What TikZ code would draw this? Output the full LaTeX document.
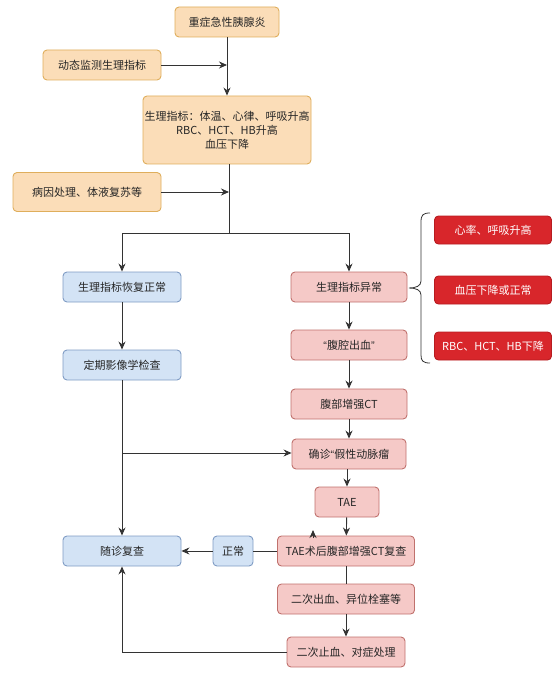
\documentclass[tikz,border=0pt]{standalone}
\usepackage{fontspec}
\setmainfont{Noto Sans CJK SC}
\newfontfamily\qf{Liberation Sans}
\usetikzlibrary{arrows.meta}
\definecolor{orfill}{HTML}{FBDDB8}
\definecolor{ordraw}{HTML}{DFAE5C}
\definecolor{blfill}{HTML}{D3E3F5}
\definecolor{bldraw}{HTML}{7F9CC4}
\definecolor{pkfill}{HTML}{F5C9C7}
\definecolor{pkdraw}{HTML}{C0716D}
\definecolor{rdfill}{HTML}{D8262B}
\definecolor{rddraw}{HTML}{B71C20}
\definecolor{linec}{HTML}{333333}
\tikzset{
  box/.style={rounded corners=4pt, line width=0.9pt, align=center, inner sep=1pt,
    font=\fontsize{11}{14}\selectfont, text=black!85},
  obox/.style={box, fill=orfill, draw=ordraw},
  bbox/.style={box, fill=blfill, draw=bldraw},
  pbox/.style={box, fill=pkfill, draw=pkdraw},
  rbox/.style={box, fill=rdfill, draw=rddraw, text=white, minimum width=117pt, minimum height=28pt},
  conn/.style={draw=linec, line width=0.9pt},
  arr/.style={conn, -{Stealth[length=8pt,width=7pt]}},
}
\begin{document}
\begin{tikzpicture}[x=1pt,y=-1pt]
\useasboundingbox (0,0) rectangle (559,676);
% top chain
\node[obox, minimum width=104pt, minimum height=30pt] (n1) at (227,22) {重症急性胰腺炎};
\node[obox, minimum width=118pt, minimum height=30pt] (n2) at (102,65) {动态监测生理指标};
\node[obox, minimum width=168pt, minimum height=68pt] (n3) at (227,130) {生理指标：体温、心律、呼吸升高\\RBC、HCT、HB升高\\血压下降};
\node[obox, minimum width=148pt, minimum height=39pt] (n4) at (87,192) {病因处理、体液复苏等};
% left column
\node[bbox, minimum width=118pt, minimum height=30pt] (l1) at (122,287) {生理指标恢复正常};
\node[bbox, minimum width=118pt, minimum height=30pt] (l2) at (122,365) {定期影像学检查};
\node[bbox, minimum width=118pt, minimum height=30pt] (l3) at (122,551) {随诊复查};
% right column
\node[pbox, minimum width=116pt, minimum height=30pt] (r1) at (349,287) {生理指标异常};
\node[pbox, minimum width=116pt, minimum height=30pt] (r2) at (349,345) {{\qf “}腹腔出血{\qf ”}};
\node[pbox, minimum width=116pt, minimum height=30pt] (r3) at (349,404) {腹部增强CT};
\node[pbox, minimum width=114pt, minimum height=30pt] (r4) at (349,454) {确诊{\qf “}假性动脉瘤};
\node[pbox, minimum width=64pt, minimum height=30pt] (r5) at (347,502) {TAE};
\node[pbox, minimum width=137pt, minimum height=30pt] (r6) at (346,551) {TAE术后腹部增强CT复查};
\node[bbox, minimum width=40pt, minimum height=30pt] (nz) at (233,551) {正常};
\node[pbox, minimum width=137pt, minimum height=30pt] (r7) at (346,599) {二次出血、异位栓塞等};
\node[pbox, minimum width=118pt, minimum height=30pt] (r8) at (346,652) {二次止血、对症处理};
% red notes
\node[rbox] (k1) at (493,230) {心率、呼吸升高};
\node[rbox] (k2) at (493,290) {血压下降或正常};
\node[rbox] (k3) at (493,346) {RBC、HCT、HB下降};
% coordinates
\coordinate (j1) at (227,66);
\coordinate (j2) at (229,193);
\coordinate (j3) at (229,233);
\coordinate (jl) at (122,233);
\coordinate (jr) at (349,233);
\coordinate (jb) at (122,453);
\coordinate (jc) at (122,652);
\coordinate (s1) at (313,538);
\coordinate (s2) at (313,530);
% connectors
\draw[arr] (n1.south) -- (n3.south |- n3.north);
\draw[arr] (n2.east) -- (n2.east -| j1);
\draw[conn] (n3.south -| j2) -- (j3);
\draw[arr] (n4.east) -- (n4.east -| j2);
\draw[conn] (jl) -- (jr);
\draw[arr] (jl) -- (l1.north);
\draw[arr] (jr) -- (r1.north);
\draw[arr] (l1) -- (l2);
\draw[arr] (l2) -- (l3);
\draw[arr] (jb) -- (jb -| r4.west);
\draw[arr] (r1) -- (r2);
\draw[arr] (r2) -- (r3);
\draw[arr] (r3) -- (r4);
\draw[arr] (r4.south -| r5) -- (r5.north);
\draw[arr] (r5) -- (r6);
\draw[conn] (r6) -- (nz);
\draw[arr] (nz) -- (l3);
\draw[conn] (r6) -- (r7);
\draw[arr] (r7) -- (r8);
\draw[arr] (r8.west) -- (jc) -- (l3.south);
\draw[arr] (s1) -- (s2);
% brace
\draw[conn, line width=0.8pt] (430,213) .. controls (423,213) and (421,215) .. (421,222) -- (421,281)
  .. controls (421,286) and (416,288) .. (409,288) .. controls (416,288) and (421,290) .. (421,295)
  -- (421,355) .. controls (421,361) and (423,363) .. (430,363);
\end{tikzpicture}
\end{document}
